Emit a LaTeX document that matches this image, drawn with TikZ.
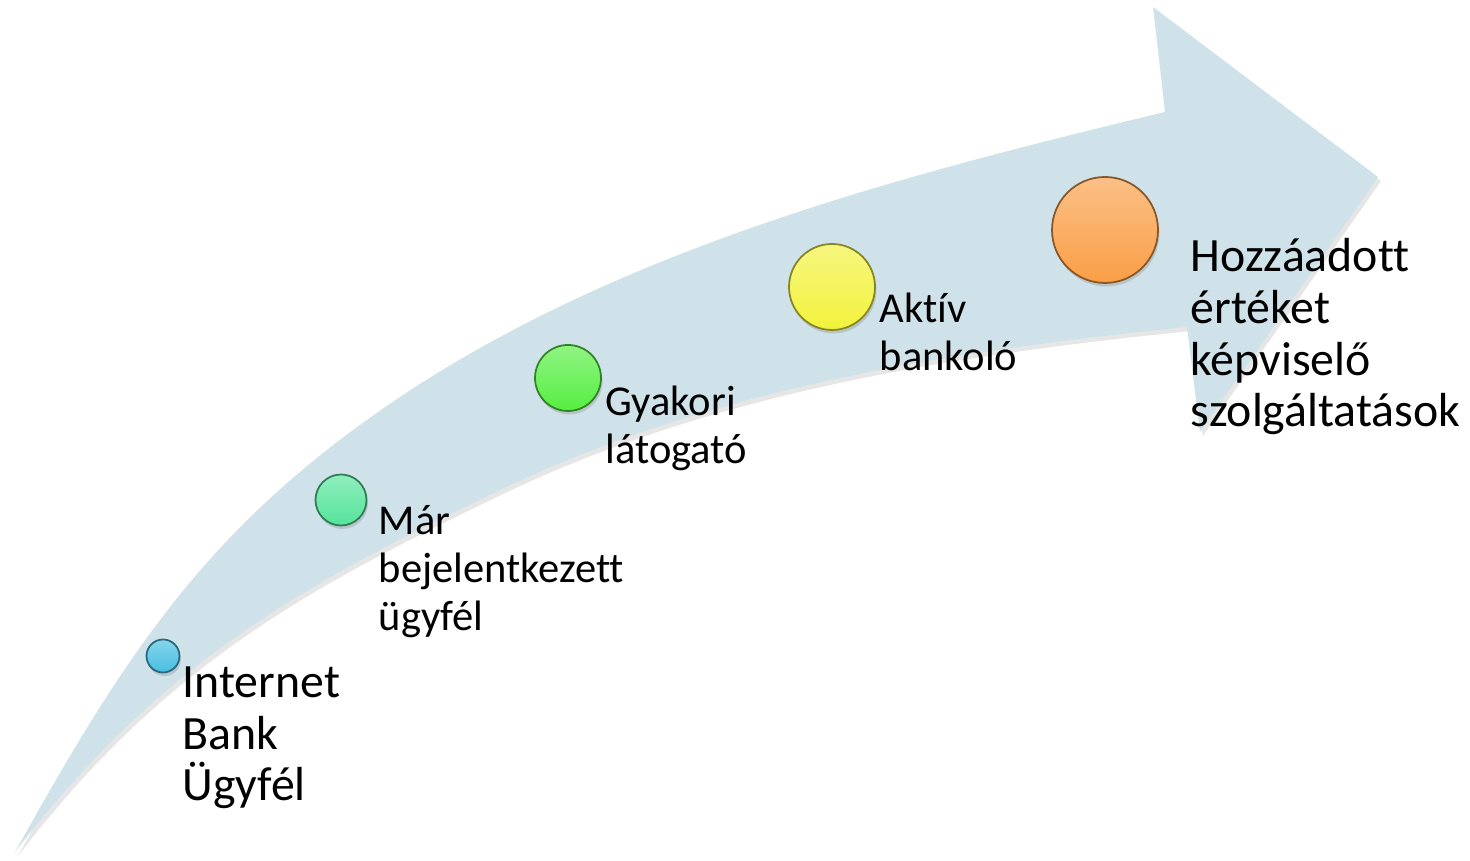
\documentclass[tikz,border=0pt]{standalone}
\usepackage{fontspec}
\setmainfont{Carlito}[Ligatures=CommonOff]
\usetikzlibrary{shadows}

\definecolor{arrowfill}{RGB}{208,226,233}
\definecolor{dotblue}{RGB}{70,190,225}
\definecolor{dotmint}{RGB}{85,228,155}
\definecolor{dotgreen}{RGB}{85,238,65}
\definecolor{dotyellow}{RGB}{242,242,60}
\definecolor{dotorange}{RGB}{250,158,70}

\begin{document}
\begin{tikzpicture}[
    ball/.style={circle, inner sep=0pt, draw=#1!55!black, line width=0.5pt,
                 top color=#1!65!white, bottom color=#1,
                 drop shadow={opacity=0.3, shadow xshift=0.4pt, shadow yshift=-1pt}},
    lbl/.style={anchor=north west, inner sep=0pt, align=left,
                font=\fontsize{12.1}{13.6}\selectfont},
    biglbl/.style={lbl, font=\fontsize{13.6}{14.7}\selectfont}
]
    \useasboundingbox (0,0) rectangle (14.70,8.61);

    % the rising arrow: upper edge, head, then lower edge back to the tail
    \fill[arrowfill, drop shadow={opacity=0.2, shadow xshift=0.8pt, shadow yshift=-1.2pt}]
        (0.15,0.09) .. controls (1.27,2.10) and (2.09,3.36) .. (4.00,4.64)
                    .. controls (6.25,6.14) and (9.03,6.86) .. (11.65,7.49)
        -- (11.53,8.54) -- (13.78,6.84) -- (12.00,4.29) -- (11.87,5.34)
                    .. controls (9.53,5.105) and (7.12,4.73) .. (5.00,3.71)
                    .. controls (3.02,2.76) and (1.61,1.99) .. (0.15,0.09)
        -- cycle;

    \node[ball=dotblue,   minimum size=0.33cm] (stage1) at (1.63,2.05) {};
    \node[ball=dotmint,   minimum size=0.51cm] (stage2) at (3.41,3.61) {};
    \node[ball=dotgreen,  minimum size=0.66cm] (stage3) at (5.68,4.83) {};
    \node[ball=dotyellow, minimum size=0.86cm] (stage4) at (8.32,5.74) {};
    \node[ball=dotorange, minimum size=1.06cm] (stage5) at (11.05,6.31) {};

    \node[biglbl] (label1) at (1.82,1.95)  {Internet\\Bank\\Ügyfél};
    \node[lbl]    (label2) at (3.78,3.56)  {Már\\bejelentkezett\\ügyfél};
    \node[lbl]    (label3) at (6.05,4.76)  {Gyakori\\látogató};
    \node[lbl]    (label4) at (8.79,5.69)  {Aktív\\bankoló};
    \node[biglbl] (label5) at (11.90,6.23) {Hozzáadott\\értéket\\képviselő\\szolgáltatások};
\end{tikzpicture}
\end{document}
